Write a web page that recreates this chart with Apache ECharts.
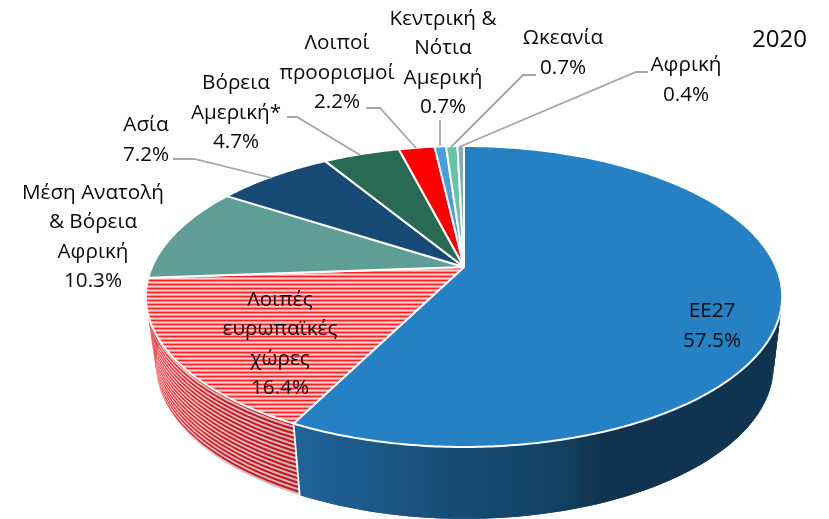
<!DOCTYPE html>
<html>
<head>
<meta charset="utf-8">
<style>html,body{margin:0;padding:0;background:#fff}#c{width:829px;height:519px}</style>
<script src="https://cdn.jsdelivr.net/npm/echarts@6/dist/echarts.min.js"></script>
</head>
<body>
<div id="c"></div>
<script>
// ---- data
const names = ['ΕΕ27', 'Λοιπές\nευρωπαϊκές\nχώρες', 'Μέση Ανατολή\n& Βόρεια\nΑφρική', 'Ασία', 'Βόρεια\nΑμερική*', 'Λοιποί\nπροορισμοί', 'Κεντρική &\nΝότια\nΑμερική', 'Ωκεανία', 'Αφρική'];
const values = [57.5, 16.4, 10.3, 7.2, 4.7, 2.2, 0.7, 0.7, 0.4];
const year = '2020';

// ---- styles
const topColors = ['#2581C4', null, '#5F9E97', '#174A75', '#276B55', '#FF0000', '#4A9EDC', '#66C4A4', '#86AFAE'];
// label block centres and leader lines (label layout only)
const labelCentres = [[712, 326], [280, 344], [93, 237], [146, 140], [236, 113], [337, 73], [443, 63], [563, 53], [686, 80]];
const leaders = [null, null, null,
  [[173, 159], [194, 159], [272, 178]],
  [[287, 117], [297, 117], [360, 155]],
  [[366, 108], [380, 108], [416, 148]],
  [[440, 120], [440, 146]],
  [[536, 75], [523, 75], [451, 147]],
  [[648, 72], [636, 72], [459, 147]]];

const FONT = '"Open Sans", "Noto Sans", sans-serif';
const total = values.reduce((a, b) => a + b, 0);
const cum = [0];
values.forEach(v => cum.push(cum[cum.length - 1] + v));

// perspective projection of the pie's top and bottom discs
const R = 312, A = 144.7, K = 0.196;
const TOP = { x: 464, y: 267, s: 1, sy: 1 };
const BOT = { x: 465, y: 336, s: 0.97, sy: 1.016 };
function project(disc, ang) {
  const X = Math.sin(ang), Y = Math.cos(ang), d = 1 + K * Y;
  return [disc.x + disc.s * R * X / d, disc.y - disc.sy * A * Y / d];
}
function angle(c) { return c / total * Math.PI * 2; }
function arc(a0, a1, map) {
  const n = Math.max(2, Math.ceil((a1 - a0) / 0.012)), pts = [];
  for (let i = 0; i <= n; i++) pts.push(map(a0 + (a1 - a0) * i / n));
  return pts;
}
function lerp(t) {
  return a => {
    const p = project(TOP, a), q = project(BOT, a);
    return [p[0] + (q[0] - p[0]) * t, p[1] + (q[1] - p[1]) * t];
  };
}
function band(a0, a1, t0, t1) {
  return arc(a0, a1, lerp(t0)).concat(arc(a0, a1, lerp(t1)).reverse());
}
// side wall as overlapping quads, so the tangent edges of the wall are filled
function wallQuads(a0, a1, fill) {
  const step = 0.015, n = Math.ceil((a1 - a0) / step), out = [];
  for (let i = 0; i < n; i++) {
    const u = a0 + (a1 - a0) * i / n, v = Math.min(a1, a0 + (a1 - a0) * (i + 2) / n);
    out.push({
      type: 'polygon',
      shape: { points: [project(TOP, u), project(TOP, v), project(BOT, v), project(BOT, u)] },
      style: { fill }
    });
  }
  return out;
}

// horizontal stripe texture of the hatched slice
function stripePattern() {
  const c = document.createElement('canvas');
  c.width = 4; c.height = 4;
  const g = c.getContext('2d');
  ['#FF1F1F', '#FF8A8A', '#FFD2D2', '#FF8A8A'].forEach((col, i) => {
    g.fillStyle = col; g.fillRect(0, i, 4, 1);
  });
  return { image: c, repeat: 'repeat' };
}
const pattern = stripePattern();
const grad = stops => new echarts.graphic.LinearGradient(stops[0], 0, stops[1], 0, stops[2], true);
const blueSide = grad([296, 782, [
  { offset: 0, color: '#1F6498' },
  { offset: 0.33, color: '#174C74' },
  { offset: 0.56, color: '#123F60' },
  { offset: 0.62, color: '#10344F' },
  { offset: 1, color: '#10344F' }
]]);
const stripeBase = grad([147, 300, [
  { offset: 0, color: '#F6DCDC' },
  { offset: 0.5, color: '#D5C3C3' },
  { offset: 1, color: '#C9B5B5' }
]]);
const stripeInk = grad([147, 300, [
  { offset: 0, color: '#F0303A' },
  { offset: 0.5, color: '#D8141E' },
  { offset: 1, color: '#C8101A' }
]]);

function renderSide(params, api) {
  const i = params.dataIndex;
  if (i > 1) return null; // walls of the back slices are hidden behind the top face
  const a0 = angle(cum[i]), a1 = angle(cum[i] + api.value(0));
  if (i === 0) return { type: 'group', children: wallQuads(a0, a1, blueSide) };
  const children = wallQuads(a0, a1, stripeBase);
  const count = 16;
  for (let k = 0; k < count; k++) {
    children.push({
      type: 'polygon',
      shape: { points: band(a0, a1, k / count, (k + 0.5) / count) },
      style: { fill: stripeInk }
    });
  }
  children.push({
    type: 'polyline',
    shape: { points: [project(TOP, a0), project(BOT, a0)] },
    style: { stroke: '#fff', lineWidth: 1.8, fill: null }
  });
  return { type: 'group', children };
}
function renderTop(params, api) {
  const i = params.dataIndex;
  const a0 = angle(cum[i]), a1 = angle(cum[i] + api.value(0));
  const pts = [[TOP.x, TOP.y]].concat(arc(a0, a1, a => project(TOP, a)));
  return {
    type: 'polygon', shape: { points: pts },
    style: { fill: i === 1 ? pattern : topColors[i], stroke: '#fff', lineWidth: 2, lineJoin: 'round' }
  };
}
function renderLabel(params, api) {
  const i = params.dataIndex;
  const children = [];
  if (leaders[i]) {
    children.push({
      type: 'polyline', shape: { points: leaders[i] },
      style: { stroke: '#A6A6A6', lineWidth: 1.8, fill: null }
    });
  }
  children.push({
    type: 'text',
    style: {
      text: names[i] + '\n' + api.value(0).toFixed(1) + '%',
      x: labelCentres[i][0], y: labelCentres[i][1],
      align: 'center', verticalAlign: 'middle',
      font: '20.7px ' + FONT, lineHeight: 29.5, fill: '#0a0a0a'
    }
  });
  return { type: 'group', children };
}

const chart = echarts.init(document.getElementById('c'), null, { renderer: 'canvas' });
chart.setOption({
  animation: false,
  backgroundColor: '#fff',
  title: { text: year, left: 747, top: 23, textStyle: { fontFamily: FONT, fontSize: 24, fontWeight: 'normal', color: '#0a0a0a' } },
  series: [
    { type: 'custom', coordinateSystem: 'none', silent: true, clip: false, z: 1, data: values, renderItem: renderSide },
    { type: 'custom', coordinateSystem: 'none', silent: true, clip: false, z: 2, data: values, renderItem: renderTop },
    { type: 'custom', coordinateSystem: 'none', silent: true, clip: false, z: 3, data: values, renderItem: renderLabel }
  ]
});
</script>
</body>
</html>
